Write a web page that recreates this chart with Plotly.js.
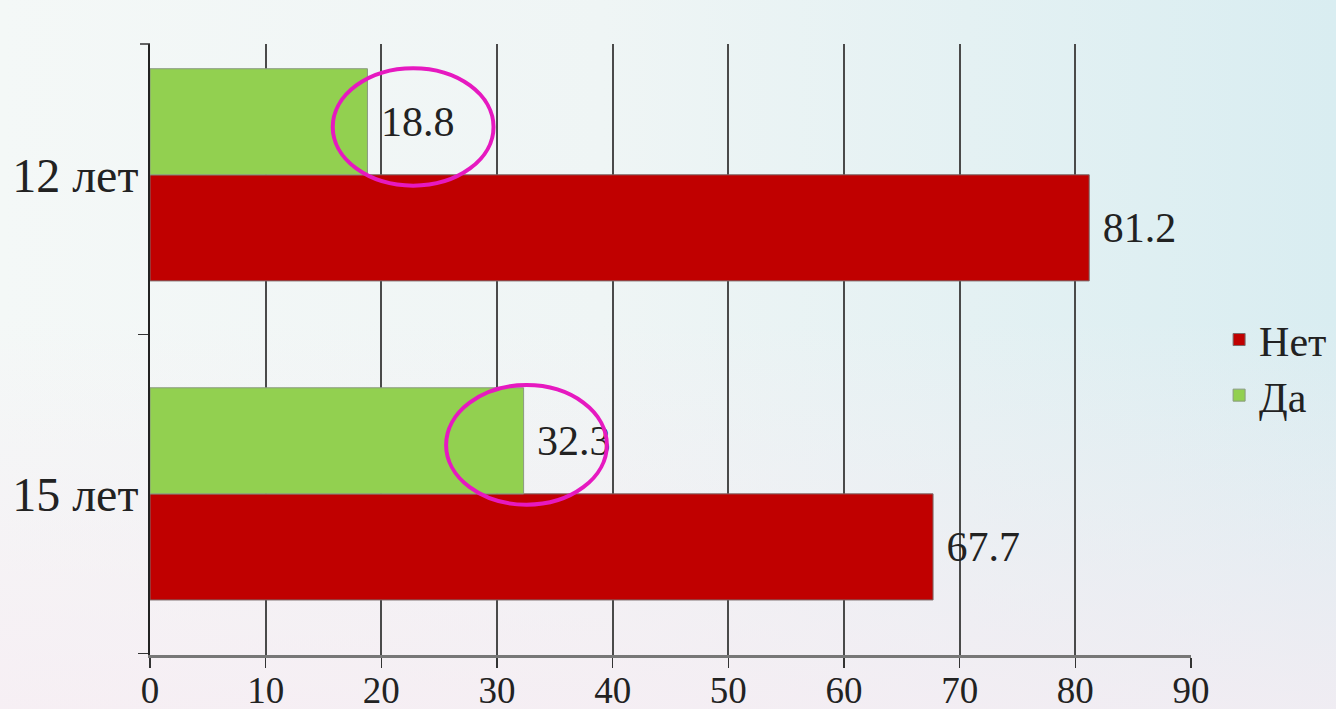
<!DOCTYPE html>
<html>
<head>
<meta charset="utf-8">
<script src="https://cdn.plot.ly/plotly-3.0.1.min.js"></script>
<style>
html, body { margin:0; padding:0; width:1336px; height:709px; overflow:hidden; }
body {
  background:
    linear-gradient(to bottom, rgba(247,238,244,0) 45%, rgba(247,236,243,0.75) 100%),
    linear-gradient(to right, #f4f8f7 0%, #eff5f5 45%, #d9edf1 100%);
}
#chart { width:1336px; height:709px; }
</style>
</head>
<body>
<div id="chart"></div>
<script>
const categories = ['15 лет', '12 лет'];
const seriesNames = ['Нет', 'Да'];
const netValues = [67.7, 81.2];
const daValues = [32.3, 18.8];
const xTicks = [0, 10, 20, 30, 40, 50, 60, 70, 80, 90];
// highlight ellipses (data coordinates: x0, x1, y0, y1)
const highlightX0 = [15.8, 25.6];
const highlightX1 = [29.7, 39.5];
const highlightY0 = [0.966, -0.034];
const highlightY1 = [1.334, 0.341];

const serif = 'Liberation Serif, Times New Roman, serif';

const traces = [
  {
    type: 'bar', orientation: 'h', name: seriesNames[0], legend: 'legend',
    y: categories, x: netValues,
    marker: { color: '#c00000', line: { color: '#7a6a6a', width: 1 } },
    text: netValues.map(v => ' ' + v.toFixed(1)), textposition: 'outside',
    textfont: { family: serif, size: 42, color: '#222' }, cliponaxis: false
  },
  {
    type: 'bar', orientation: 'h', name: seriesNames[1], legend: 'legend2',
    y: categories, x: daValues,
    marker: { color: '#92d050', line: { color: '#8a9a80', width: 1 } },
    text: daValues.map(v => ' ' + v.toFixed(1)), textposition: 'outside',
    textfont: { family: serif, size: 42, color: '#222' }, cliponaxis: false
  }
];

const shapes = highlightX0.map((x0, i) => ({
  type: 'circle', xref: 'x', yref: 'y',
  x0: x0, x1: highlightX1[i], y0: highlightY0[i], y1: highlightY1[i],
  line: { color: '#e619c0', width: 4 }, layer: 'above'
}));
// top boundary tick of the category axis
shapes.push({
  type: 'line', xref: 'paper', yref: 'paper',
  x0: -0.0096, x1: 0, y0: 1, y1: 1,
  line: { color: '#333', width: 1.5 }
});

const legendStyle = {
  xanchor: 'left', yanchor: 'middle', bgcolor: 'rgba(0,0,0,0)',
  font: { family: serif, size: 42, color: '#222' }, itemwidth: 30
};

const layout = {
  width: 1336, height: 709,
  margin: { l: 150, r: 145, t: 44, b: 54, autoexpand: false },
  paper_bgcolor: 'rgba(0,0,0,0)', plot_bgcolor: 'rgba(0,0,0,0)',
  barmode: 'group', bargap: 0.335, bargroupgap: 0,
  font: { family: serif, color: '#222' },
  xaxis: {
    range: [0, 90], tickvals: xTicks, ticktext: xTicks.map(String),
    showgrid: true, gridcolor: '#4a4a4a', gridwidth: 2,
    zeroline: false,
    showline: true, linecolor: '#777', linewidth: 3,
    ticks: 'outside', ticklen: 10, tickwidth: 1.5, tickcolor: '#333',
    ticklabelstandoff: -9,
    tickfont: { family: serif, size: 37, color: '#222' }
  },
  yaxis: {
    type: 'category', categoryorder: 'array', categoryarray: categories,
    range: [-0.505, 1.41],
    showline: true, linecolor: '#222', linewidth: 2,
    ticks: 'outside', tickson: 'boundaries', ticklen: 10, tickwidth: 1.5, tickcolor: '#333',
    showgrid: false, zeroline: false,
    tickfont: { family: serif, size: 48, color: '#222' }
  },
  legend: Object.assign({ x: 1.027, y: 0.516 }, legendStyle),
  legend2: Object.assign({ x: 1.027, y: 0.425 }, legendStyle),
  shapes: shapes,
  showlegend: true
};

Plotly.newPlot('chart', traces, layout, { displayModeBar: false, staticPlot: true });
</script>
</body>
</html>
